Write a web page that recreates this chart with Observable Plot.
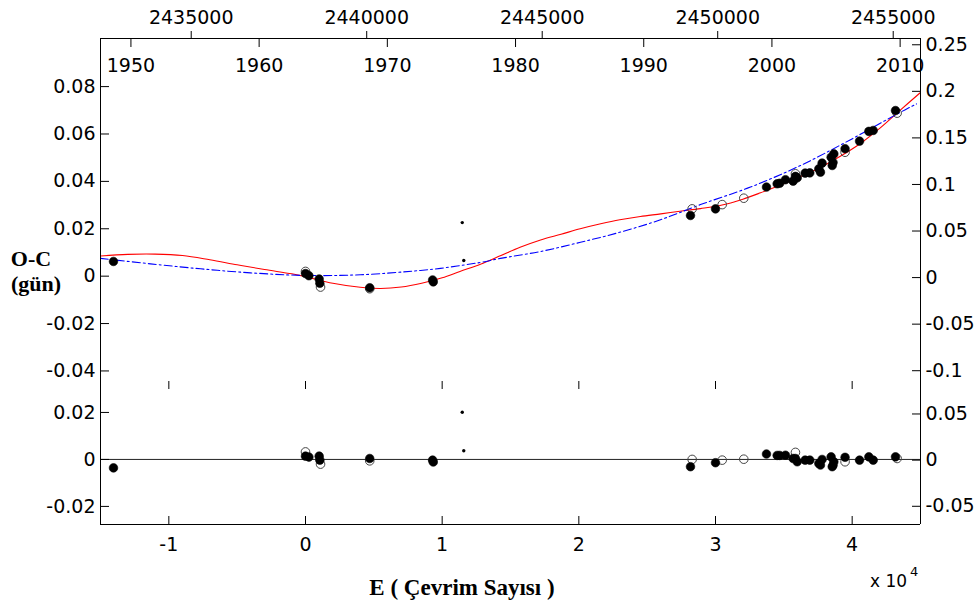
<!DOCTYPE html>
<html>
<head>
<meta charset="utf-8">
<script src="https://cdn.jsdelivr.net/npm/d3@7"></script>
<script src="https://cdn.jsdelivr.net/npm/@observablehq/plot@0.6"></script>
<style>
  body { margin: 0; background: #fff; }
  #wrap { position: relative; width: 978px; height: 603px; overflow: hidden; background: #fff; }
  #wrap svg { position: absolute; left: 0; }
</style>
</head>
<body>
<div id="wrap"></div>
<script>
// ---------- data ----------
// filled circles: cycle number E, O-C (days), residual (days)
const filledE   = [-14050, 0, 250, 1000, 1050, 4700, 9300, 9350, 28170, 30000, 33730, 34510, 34700, 35120, 35680, 35850, 35980, 36560, 36900, 37560, 37680, 37800, 38460, 38540, 38600, 38660, 39480, 40540, 41220, 41540, 43170];
const filledOC  = [0.0062, 0.0011, 0.0002, -0.0012, -0.0030, -0.0049, -0.0016, -0.0024, 0.0256, 0.0284, 0.0376, 0.0390, 0.0392, 0.0407, 0.0401, 0.0421, 0.0415, 0.0435, 0.0436, 0.0453, 0.0439, 0.0477, 0.0502, 0.0467, 0.0480, 0.0516, 0.0538, 0.0570, 0.0611, 0.0615, 0.0699];
const filledRes = [-0.0036, 0.0014, 0.0010, 0.0014, -0.0003, 0.0004, -0.0003, -0.0011, -0.0031, -0.0014, 0.0023, 0.0017, 0.0017, 0.0018, 0.0004, 0.0004, -0.0010, -0.0003, -0.0003, -0.0017, -0.0024, 0.0000, 0.0011, -0.0031, -0.0025, -0.0010, 0.0009, -0.0003, 0.0011, -0.0003, 0.0011];
// open circles
const openE   = [0, 1100, 4700, 28290, 30490, 32070, 35850, 39480, 43290];
const openOC  = [0.0020, -0.0046, -0.0053, 0.0284, 0.0302, 0.0329, 0.0432, 0.0523, 0.0688];
const openRes = [0.0032, -0.0020, -0.0006, 0.0000, -0.0003, 0.0001, 0.0030, -0.0010, 0.0004];
// small dots
const dotE   = [11470, 11580];
const dotOC  = [0.0226, 0.0066];
const dotRes = [0.0201, 0.0037];
// red solid fit curve
const redE  = [-15000, -13000, -11000, -9000, -7000, -5000, -3000, -1000, 0, 2000, 4000, 5500, 7000, 8500, 10000, 11300, 12800, 14300, 15700, 17200, 18700, 20100, 21600, 23000, 24500, 26000, 27400, 28900, 30400, 32000, 33300, 34800, 36200, 37700, 39100, 40600, 42100, 43500, 45000];
const redOC = [0.0085, 0.0092, 0.0093, 0.0087, 0.0069, 0.0048, 0.0028, 0.0010, -0.0002, -0.0030, -0.0047, -0.0052, -0.0046, -0.0030, -0.0007, 0.0020, 0.0050, 0.0087, 0.0122, 0.0153, 0.0177, 0.0200, 0.0221, 0.0238, 0.0252, 0.0263, 0.0274, 0.0285, 0.0299, 0.0325, 0.0352, 0.0386, 0.0420, 0.0460, 0.0505, 0.0560, 0.0628, 0.0700, 0.0775];
// blue dash-dot fit curve
const blueE  = [-15000, -11341, -7683, -4024, 0, 4024, 8415, 9878, 11341, 12805, 14268, 17195, 20122, 23049, 25976, 28902, 32561, 36219, 39878, 43537, 44707];
const blueOC = [0.0075, 0.0052, 0.0031, 0.0014, 0.0003, 0.0006, 0.0024, 0.0033, 0.0045, 0.0058, 0.0075, 0.0104, 0.0143, 0.0186, 0.0238, 0.0302, 0.0376, 0.0467, 0.0576, 0.0692, 0.0727];
// axes
const xDomain = [-15000, 45000];
const yTopDomain = [-0.0453, 0.1003];
const yBotDomain = [-0.0277, 0.0336];
const xTicks = [-10000, 0, 10000, 20000, 30000, 40000];
const leftTicksTop = [-0.04, -0.02, 0, 0.02, 0.04, 0.06, 0.08];
const rightTicksTop = [-0.1, -0.05, 0, 0.05, 0.1, 0.15, 0.2, 0.25];
const leftTicksBot = [-0.02, 0, 0.02];
const rightTicksBot = [-0.05, 0, 0.05];
const jdTicks = [2435000, 2440000, 2445000, 2450000, 2455000];
const yearTicks = [1950, 1960, 1970, 1980, 1990, 2000, 2010];
// ephemeris & secondary-axis conversions
const T0 = 2438256, P = 0.38937, JD1950 = 2433282.5;
const rightFactor = 0.393, rightOffTop = -0.0006, rightOffBot = -0.0003;

// ---------- helpers ----------
const jdToE = jd => (jd - T0) / P;
const eToJd = e => T0 + e * P;
const yearToE = y => jdToE(JD1950 + (y - 1950) * 365.25);
const eToYear = e => 1950 + (eToJd(e) - JD1950) / 365.25;
const fmt = v => String(Math.round(v * 100) / 100);
const zip = (E, a, b) => E.map((e, i) => ({E: e, oc: a[i], res: b ? b[i] : null}));
const filled = zip(filledE, filledOC, filledRes);
const open = zip(openE, openOC, openRes);
const dots = zip(dotE, dotOC, dotRes);
const red = zip(redE, redOC);
const blue = zip(blueE, blueOC);

const style = {fontFamily: "DejaVu Sans", fontSize: "19px", color: "#000", background: "transparent", overflow: "visible"};
const wrap = document.getElementById("wrap");

// ---------- upper panel ----------
const upper = Plot.plot({
  width: 978, height: 383,
  marginLeft: 100, marginRight: 58, marginTop: 38, marginBottom: 0,
  x: {domain: xDomain}, y: {domain: yTopDomain},
  style,
  marks: [
    Plot.line(red, {x: "E", y: "oc", stroke: "#ff0000", strokeWidth: 1.1, curve: "catmull-rom"}),
    Plot.line(blue, {x: "E", y: "oc", stroke: "#0000ff", strokeWidth: 1.1, strokeDasharray: "8,3,2,3", curve: "catmull-rom"}),
    Plot.dot(open, {x: "E", y: "oc", r: 4.3, stroke: "#444", strokeWidth: 1, fill: "none"}),
    Plot.dot(filled, {x: "E", y: "oc", r: 4.3, fill: "#000", stroke: "#000", strokeWidth: 0.6}),
    Plot.dot(dots, {x: "E", y: "oc", r: 1.7, fill: "#000"}),
    Plot.ruleX(xDomain, {stroke: "#000"}),
    Plot.ruleY([yTopDomain[1]], {stroke: "#000"}),
    Plot.axisY(leftTicksTop, {anchor: "left", tickSize: -9, tickPadding: 14, tickFormat: d => String(d), label: null}),
    Plot.axisY(rightTicksTop.map(r => r * rightFactor + rightOffTop), {anchor: "right", tickSize: -9, tickPadding: 14, tickFormat: d => fmt((d - rightOffTop) / rightFactor), label: null}),
    Plot.axisX(jdTicks.map(jdToE), {anchor: "top", tickSize: 8, tickPadding: 7, tickFormat: d => String(Math.round(eToJd(d) / 1000) * 1000), label: null}),
    Plot.axisX(yearTicks.map(yearToE), {anchor: "top", tickSize: -8, tickPadding: -25, tickFormat: d => String(Math.round(eToYear(d))), label: null})
  ]
});
upper.style.top = "0px";
wrap.appendChild(upper);

// ---------- lower (residual) panel ----------
const lower = Plot.plot({
  width: 978, height: 223,
  marginLeft: 100, marginRight: 58, marginTop: 0, marginBottom: 79,
  x: {domain: xDomain}, y: {domain: yBotDomain},
  style,
  marks: [
    Plot.ruleY([0], {stroke: "#222"}),
    Plot.dot(open, {x: "E", y: "res", r: 4.3, stroke: "#444", strokeWidth: 1, fill: "none"}),
    Plot.dot(filled, {x: "E", y: "res", r: 4.3, fill: "#000", stroke: "#000", strokeWidth: 0.6}),
    Plot.dot(dots, {x: "E", y: "res", r: 1.7, fill: "#000"}),
    Plot.ruleX(xDomain, {stroke: "#000"}),
    Plot.ruleY([yBotDomain[0]], {stroke: "#000"}),
    Plot.axisY(leftTicksBot, {anchor: "left", tickSize: -9, tickPadding: 14, tickFormat: d => String(d), label: null}),
    Plot.axisY(rightTicksBot.map(r => r * rightFactor + rightOffBot), {anchor: "right", tickSize: -9, tickPadding: 14, tickFormat: d => fmt((d - rightOffBot) / rightFactor), label: null}),
    Plot.axisX(xTicks, {anchor: "bottom", tickSize: -8, tickPadding: 21, tickFormat: d => String(d / 10000), label: null}),
    Plot.axisX(xTicks, {anchor: "top", tickSize: -8, tickFormat: () => "", label: null})
  ]
});
lower.style.top = "380px";
wrap.appendChild(lower);

// ---------- axis titles ----------
const ns = "http://www.w3.org/2000/svg";
const lab = document.createElementNS(ns, "svg");
lab.setAttribute("width", 978); lab.setAttribute("height", 603);
lab.style.top = "0px"; lab.style.pointerEvents = "none";
function addText(str, x, y, opts) {
  const t = document.createElementNS(ns, "text");
  t.setAttribute("x", x); t.setAttribute("y", y);
  t.setAttribute("text-anchor", opts.anchor || "middle");
  t.setAttribute("font-family", opts.family);
  t.setAttribute("font-size", opts.size);
  if (opts.weight) t.setAttribute("font-weight", opts.weight);
  t.textContent = str;
  lab.appendChild(t);
}
const serif = {family: "Liberation Serif", size: 22, weight: "bold"};
addText("O-C", 31, 266, serif);
addText("(gün)", 36, 291, serif);
addText("E ( Çevrim Sayısı )", 462, 595, {family: "Liberation Serif", size: 23, weight: "bold"});
addText("x 10", 870, 587, {family: "DejaVu Sans", size: 17, anchor: "start"});
addText("4", 910, 576, {family: "DejaVu Sans", size: 13, anchor: "start"});
wrap.appendChild(lab);
</script>
</body>
</html>
